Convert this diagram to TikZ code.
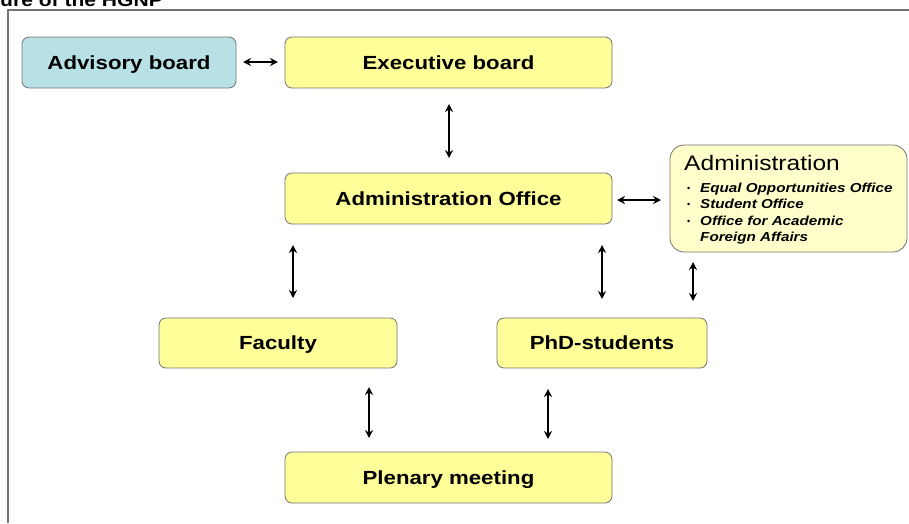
\documentclass[tikz,border=0pt]{standalone}
\usepackage{fontspec}
\setmainfont{Liberation Sans}
\newfontfamily\widefont[FakeStretch=1.17]{Liberation Sans}
\usetikzlibrary{arrows.meta}
\definecolor{boxyellow}{HTML}{FFFF99}
\definecolor{paleyellow}{HTML}{FFFFCC}
\definecolor{paleblue}{HTML}{B7E1E4}
\tikzset{
  unitbox/.style={draw=black!55, line width=0.8pt, rounded corners=7pt, fill=boxyellow,
    font=\widefont\fontsize{19}{22}\selectfont\bfseries, inner sep=0pt,
    text height=13.6pt, text depth=0pt},
  biarrow/.style={{Stealth[length=8pt,width=8pt]}-{Stealth[length=8pt,width=8pt]}, line width=2pt, black},
  itemtext/.style={anchor=base west, inner sep=0pt, font=\widefont\fontsize{13}{15}\selectfont\bfseries\itshape},
  bulletdot/.style={anchor=base west, inner sep=0pt, font=\fontsize{9}{10}\selectfont},
}
\begin{document}
\begin{tikzpicture}[x=1pt,y=-1pt]
\useasboundingbox (0,0) rectangle (909,523);
% frame
\draw[black!55, line width=1.5pt] (8,523) -- (8,10) -- (909,10);
% title (cut off at the top edge, as in the reference)
\node[anchor=base west, inner sep=0pt, font=\widefont\fontsize{18}{20}\selectfont\bfseries] (title) at (0,6) {ure of the HGNP};
% boxes
\node[unitbox, fill=paleblue, minimum width=214pt, minimum height=51pt] (adv) at (129,62.5) {Advisory board};
\node[unitbox, minimum width=327pt, minimum height=51pt] (exec) at (448.5,62.5) {Executive board};
\node[unitbox, minimum width=327pt, minimum height=51pt] (office) at (448.5,198.5) {Administration Office};
\node[unitbox, minimum width=238pt, minimum height=50pt] (fac) at (278,343) {Faculty};
\node[unitbox, minimum width=210pt, minimum height=50pt] (phd) at (602,343) {PhD-students};
\node[unitbox, minimum width=327pt, minimum height=51pt] (plen) at (448.5,477.5) {Plenary meeting};
\node[draw=black!55, line width=0.8pt, rounded corners=14pt, fill=paleyellow,
  minimum width=237pt, minimum height=107pt, inner sep=0pt] (admin) at (788.5,198.5) {};
\node[anchor=base west, inner sep=0pt, font=\widefont\fontsize{21}{24}\selectfont] (admhead) at (684,170) {Administration};
\node[bulletdot] (b1d) at (687,191) {•};
\node[itemtext] (i1) at (700,192) {Equal Opportunities Office};
\node[bulletdot] (b2d) at (687,207) {•};
\node[itemtext] (i2) at (700,208) {Student Office};
\node[bulletdot] (b3d) at (687,224) {•};
\node[itemtext] (i3) at (700,225) {Office for Academic};
\node[itemtext] (i4) at (700,241) {Foreign Affairs};
% coordinates for arrows
\coordinate (a1) at (243,62); \coordinate (a2) at (278,62);
\coordinate (b1) at (449,104); \coordinate (b2) at (449,158);
\coordinate (c1) at (617,200); \coordinate (c2) at (661,200);
\coordinate (d1) at (293,245); \coordinate (d2) at (293,298);
\coordinate (e1) at (602,245); \coordinate (e2) at (602,299);
\coordinate (f1) at (693,262); \coordinate (f2) at (693,301);
\coordinate (g1) at (369,387); \coordinate (g2) at (369,438);
\coordinate (h1) at (548,389); \coordinate (h2) at (548,439);
\draw[biarrow] (a1) -- (a2);
\draw[biarrow] (b1) -- (b2);
\draw[biarrow] (c1) -- (c2);
\draw[biarrow] (d1) -- (d2);
\draw[biarrow] (e1) -- (e2);
\draw[biarrow] (f1) -- (f2);
\draw[biarrow] (g1) -- (g2);
\draw[biarrow] (h1) -- (h2);
\end{tikzpicture}
\end{document}
